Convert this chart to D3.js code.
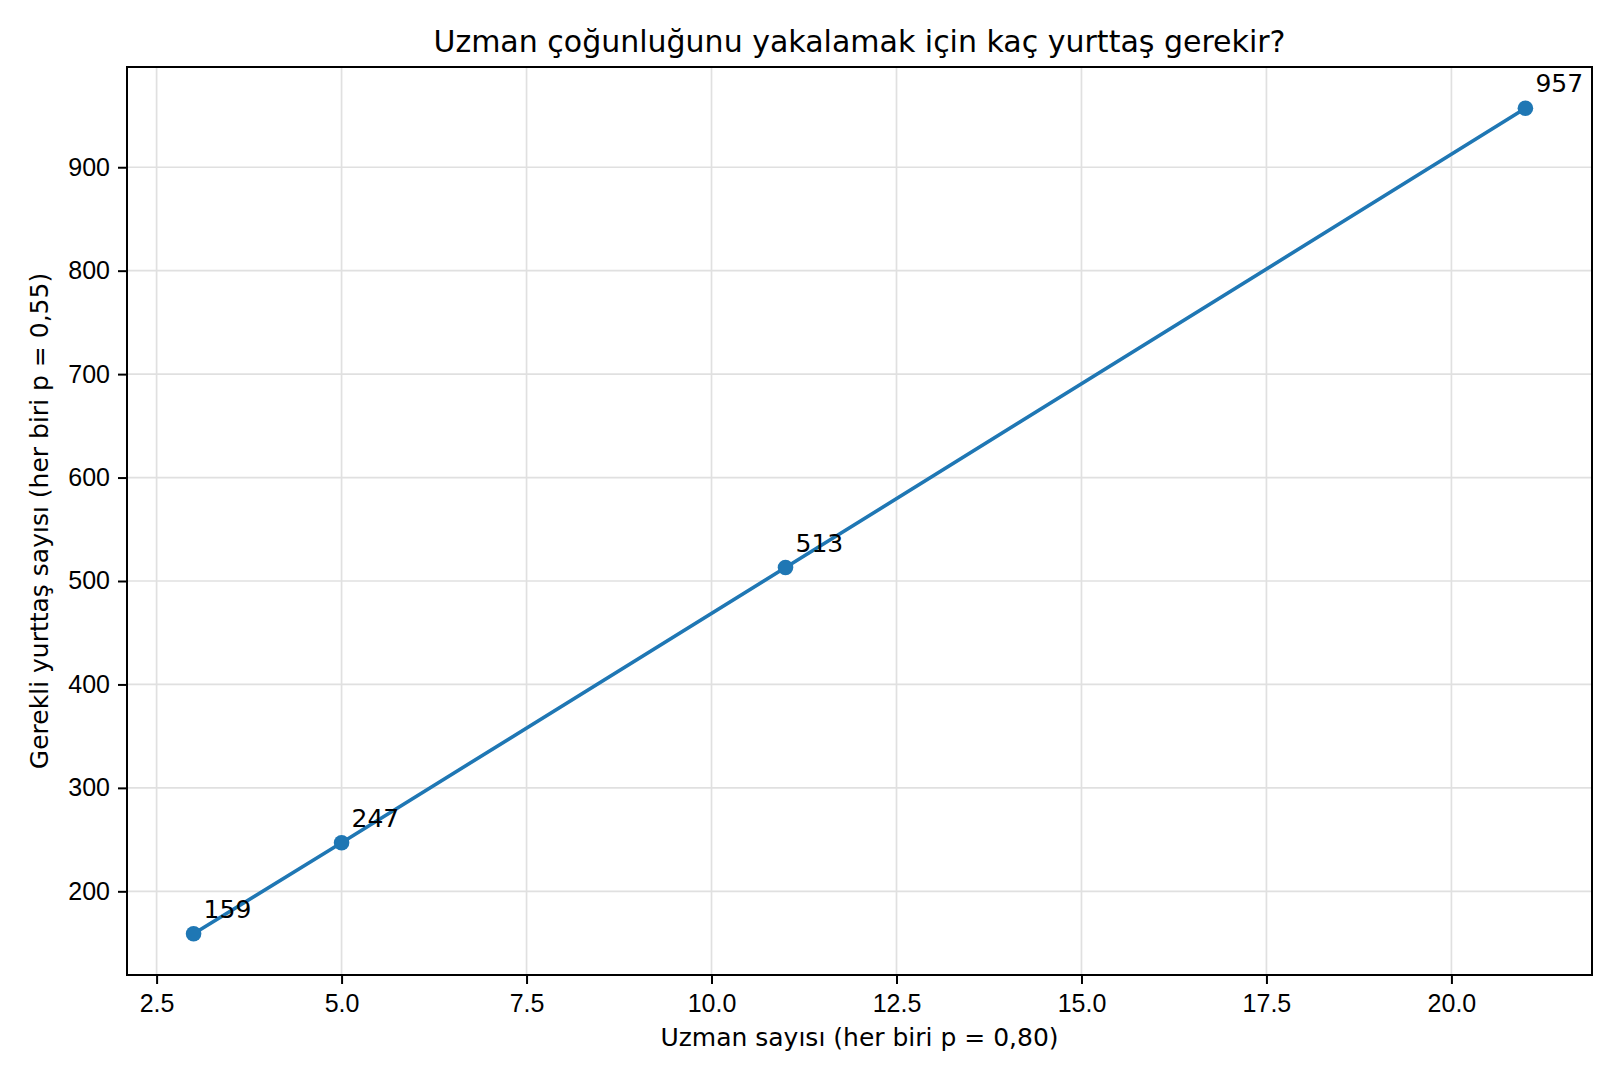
<!DOCTYPE html>
<html>
<head>
    <meta charset="utf-8">
    <title>Uzman çoğunluğu</title>
    <script src="https://d3js.org/d3.v7.min.js"></script>
    <style>
        html, body { margin: 0; background: #fff; }
        svg { display: block; font-family: "DejaVu Sans", sans-serif; }
        .grid line { stroke: #e0e0e0; stroke-width: 1.7px; }
        .tick text { fill: #000; }
    </style>
</head>
<body>
    <svg></svg>
    <script>
        // data
        var experts = [3, 5, 11, 21];
        var citizens = [159, 247, 513, 957];
        var xTicks = [2.5, 5, 7.5, 10, 12.5, 15, 17.5, 20];
        var yTicks = [200, 300, 400, 500, 600, 700, 800, 900];

        var width = 1620, height = 1080;
        var plotLeft = 127, plotRight = 1592, plotTop = 67, plotBottom = 975;

        var svg = d3.select("svg").attr("width", width).attr("height", height);

        // matplotlib style 5% padding
        var xPad = (d3.max(experts) - d3.min(experts)) * 0.05;
        var yPad = (d3.max(citizens) - d3.min(citizens)) * 0.05;
        var x = d3.scaleLinear().domain([d3.min(experts) - xPad, d3.max(experts) + xPad]).range([plotLeft, plotRight]);
        var y = d3.scaleLinear().domain([d3.min(citizens) - yPad, d3.max(citizens) + yPad]).range([plotBottom, plotTop]);

        var points = experts.map((e, i) => ({x: e, y: citizens[i]}));

        // grid
        var grid = svg.append("g").attr("class", "grid");
        grid.selectAll(".gx").data(xTicks).enter().append("line")
            .attr("x1", d => x(d)).attr("x2", d => x(d))
            .attr("y1", plotTop).attr("y2", plotBottom);
        grid.selectAll(".gy").data(yTicks).enter().append("line")
            .attr("x1", plotLeft).attr("x2", plotRight)
            .attr("y1", d => y(d)).attr("y2", d => y(d));

        // axes
        var xAxis = svg.append("g")
            .attr("transform", "translate(0," + plotBottom + ")")
            .call(d3.axisBottom(x).tickValues(xTicks).tickFormat(d3.format(".1f")).tickSizeOuter(0).tickSize(9).tickPadding(10));
        xAxis.selectAll("text").attr("font-size", 25).attr("dy", "0.71em");

        var yAxis = svg.append("g")
            .attr("transform", "translate(" + plotLeft + ",0)")
            .call(d3.axisLeft(y).tickValues(yTicks).tickSizeOuter(0).tickSize(9).tickPadding(8));
        yAxis.selectAll("text").attr("font-size", 25);

        svg.selectAll(".domain").remove();
        svg.selectAll(".tick line").attr("stroke", "#000").attr("stroke-width", 2);

        // frame
        svg.append("rect")
            .attr("x", plotLeft).attr("y", plotTop)
            .attr("width", plotRight - plotLeft).attr("height", plotBottom - plotTop)
            .attr("fill", "none").attr("stroke", "#000").attr("stroke-width", 2);

        // line + markers
        var line = d3.line().x(d => x(d.x)).y(d => y(d.y));
        svg.append("path").datum(points)
            .attr("d", line)
            .attr("fill", "none")
            .attr("stroke", "#1f77b4")
            .attr("stroke-width", 3.6);

        svg.append("g").selectAll("circle").data(points).enter().append("circle")
            .attr("cx", d => x(d.x)).attr("cy", d => y(d.y))
            .attr("r", 7.8)
            .attr("fill", "#1f77b4");

        svg.append("g").selectAll("text").data(points).enter().append("text")
            .attr("x", d => x(d.x) + 10)
            .attr("y", d => y(d.y) - 16)
            .attr("font-size", 25)
            .text(d => d.y);

        // titles
        svg.append("text")
            .attr("x", (plotLeft + plotRight) / 2).attr("y", 52)
            .attr("text-anchor", "middle")
            .attr("font-size", 30)
            .text("Uzman çoğunluğunu yakalamak için kaç yurttaş gerekir?");

        svg.append("text")
            .attr("x", (plotLeft + plotRight) / 2).attr("y", 1046)
            .attr("text-anchor", "middle")
            .attr("font-size", 25)
            .text("Uzman sayısı (her biri p = 0,80)");

        svg.append("text")
            .attr("transform", "translate(48," + (plotTop + plotBottom) / 2 + ") rotate(-90)")
            .attr("text-anchor", "middle")
            .attr("font-size", 25)
            .text("Gerekli yurttaş sayısı (her biri p = 0,55)");
    </script>
</body>
</html>
